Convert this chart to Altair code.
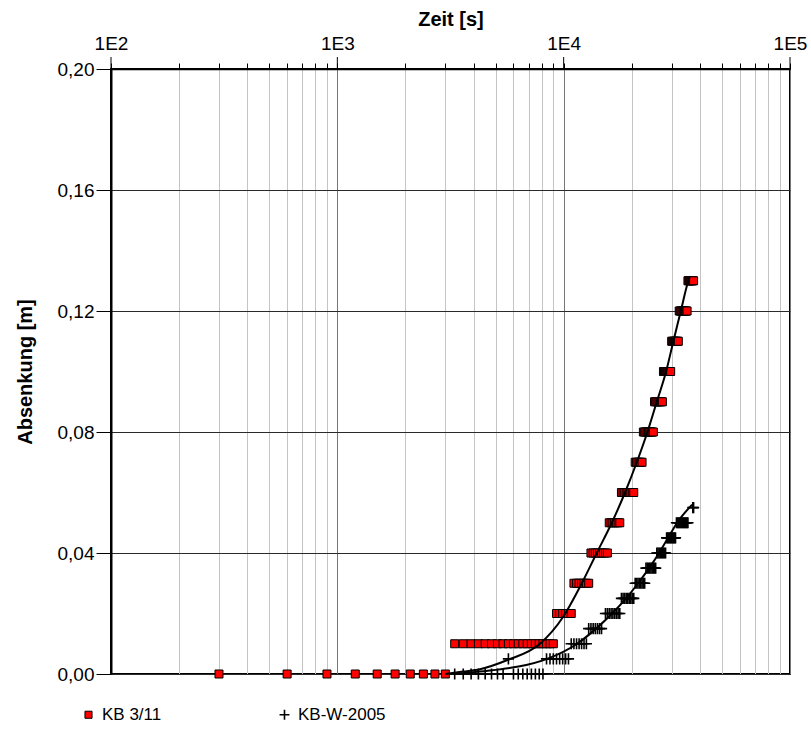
import altair as alt
import pandas as pd

# ---------------- data ----------------
SERIES = ["KB 3/11", "KB-W-2005"]

KB311_LEVELS = [0.00, 0.01, 0.02, 0.03, 0.04, 0.05, 0.06, 0.07, 0.08, 0.09, 0.10, 0.11, 0.12, 0.13]
KB311_TIMES = [
    [300, 600, 900, 1200, 1500, 1800, 2100, 2400, 2700, 3000],
    [3300, 3600, 3900, 4200, 4500, 4800, 5100, 5400, 5700, 6000, 6300, 6600, 6900, 7200,
     7500, 7800, 8100, 8400, 8700, 9000],
    [9300, 9600, 9900, 10200, 10500, 10800],
    [11100, 11400, 11700, 12000, 12300, 12600, 12900],
    [13200, 13500, 13800, 14100, 14400, 14700, 15000, 15300, 15600],
    [15900, 16200, 16500, 16800, 17100, 17400, 17700],
    [18000, 18300, 18600, 18900, 19200, 19500, 19800, 20100, 20400],
    [20700, 21000, 21300, 21600, 21900, 22200],
    [22500, 22800, 23100, 23400, 23700, 24000, 24300, 24600, 24900],
    [25200, 25500, 25800, 26100, 26400, 26700, 27000, 27300],
    [27600, 27900, 28200, 28500, 28800, 29100, 29400, 29700],
    [30000, 30300, 30600, 30900, 31200, 31500, 31800, 32100],
    [32400, 32700, 33000, 33300, 33600, 33900, 34200, 34500, 34800, 35100],
    [35400, 35700, 36000, 36300, 36600, 36900, 37200, 37500],
]

KBW_LEVELS = [0.000, 0.005, 0.005, 0.010, 0.015, 0.020, 0.025, 0.030, 0.035, 0.040, 0.045, 0.050, 0.055]
KBW_TIMES = [
    [3300, 3600, 3900, 4200, 4500, 4800, 5100, 5400, 6000, 6300, 6600, 6900, 7200, 7500, 7800, 8100],
    [5700],
    [8400, 8700, 9000, 9300, 9600, 9900, 10200, 10500],
    [10800, 11100, 11400, 11700, 12000, 12300, 12600],
    [12900, 13200, 13500, 13800, 14100, 14400, 14700],
    [15300, 15600, 15900, 16200, 16500, 16800, 17100, 17400, 17700],
    [18000, 18300, 18600, 18900, 19200, 19500, 19800, 20100, 20400],
    [20700, 21000, 21300, 21600, 21900, 22200, 22500, 22800],
    [23100, 23400, 23700, 24000, 24300, 24600, 24900, 25200, 25500],
    [25800, 26100, 26400, 26700, 27000, 27300, 27600, 27900, 28200],
    [28500, 28800, 29100, 29400, 29700, 30000, 30300, 30600, 30900, 31200],
    [31500, 31800, 32100, 32400, 32700, 33000, 33300, 33600, 33900, 34200, 34500, 34800, 35100, 35400],
    [37200, 37500],
]

FIT1_T = [3000, 3590, 4270, 5680, 7860, 9970, 12030, 14000, 16320, 18670, 21040, 23450,
          25790, 28350, 30530, 32920, 35560, 36140]
FIT1_S = [0.0, 0.0008, 0.0016, 0.0047, 0.010, 0.019, 0.030, 0.040, 0.050, 0.060, 0.070, 0.080,
          0.090, 0.100, 0.110, 0.120, 0.130, 0.1315]

FIT2_T = [3300, 4270, 8450, 11460, 13910, 16370, 18870, 21320, 23850, 26400, 28930, 31710, 36940]
FIT2_S = [0.0, 0.0008, 0.005, 0.010, 0.015, 0.020, 0.025, 0.030, 0.035, 0.040, 0.045, 0.050, 0.056]

X_TICKS = [100, 200, 300, 400, 500, 600, 700, 800, 900,
           1000, 2000, 3000, 4000, 5000, 6000, 7000, 8000, 9000,
           10000, 20000, 30000, 40000, 50000, 60000, 70000, 80000, 90000,
           100000]
X_DECADES = [100, 1000, 10000, 100000]
Y_TICKS = [0.0, 0.04, 0.08, 0.12, 0.16, 0.20]

# ---------------- tables ----------------
rows = []
for lvl, ts in zip(KB311_LEVELS, KB311_TIMES):
    for t in ts:
        rows.append({"t": t, "s": lvl, "series": SERIES[0]})
for lvl, ts in zip(KBW_LEVELS, KBW_TIMES):
    for t in ts:
        rows.append({"t": t, "s": lvl, "series": SERIES[1]})
pts = pd.DataFrame(rows)

fit = pd.DataFrame(
    [{"t": t, "s": s, "fit": "a"} for t, s in zip(FIT1_T, FIT1_S)]
    + [{"t": t, "s": s, "fit": "b"} for t, s in zip(FIT2_T, FIT2_S)]
)
dec = pd.DataFrame({"t": X_DECADES})

FONT = "Liberation Sans"
IS_DEC = "abs(log(datum.value)/LN10 - round(log(datum.value)/LN10)) < 0.0001"
PLUS = "M-1.4,0L1.4,0M0,-1.4L0,1.4"

xscale = alt.Scale(type="log", domain=[100, 100000], nice=False)
yscale = alt.Scale(domain=[0, 0.2], nice=False, zero=False)

xaxis = alt.Axis(
    orient="top",
    values=X_TICKS,
    labelExpr=IS_DEC + " ? '1E' + round(log(datum.value)/LN10) : ''",
    labelOverlap=False,
    labelFlush=False,
    labelBound=False,
    labelFont=FONT,
    labelFontSize=19,
    labelColor="black",
    labelPadding=10,
    tickSize=6,
    tickColor="black",
    tickWidth=1,
    grid=True,
    gridColor={"condition": {"test": IS_DEC, "value": "#777777"}, "value": "#c4c4c4"},
    gridWidth=1,
    domainColor="black",
    domainWidth=1.5,
    title="Zeit [s]",
    titleFont=FONT,
    titleFontSize=20,
    titleFontWeight="bold",
    titleColor="black",
    titlePadding=5,
)

yaxis = alt.Axis(
    values=Y_TICKS,
    labelExpr="replace(format(datum.value, '.2f'), '.', ',')",
    labelFont=FONT,
    labelFontSize=19,
    labelColor="black",
    labelPadding=2,
    tickSize=15,
    tickColor="black",
    tickWidth=1,
    grid=True,
    gridColor="#2a2a2a",
    gridWidth=1,
    domainColor="black",
    domainWidth=2,
    title="Absenkung [m]",
    titleFont=FONT,
    titleFontSize=20,
    titleFontWeight="bold",
    titleColor="black",
    titlePadding=22,
)

legend = alt.Legend(
    orient="none",
    legendX=-31,
    legendY=637,
    direction="horizontal",
    title=None,
    labelFont=FONT,
    labelFontSize=17,
    labelColor="black",
    labelOffset=5,
    symbolSize=50,
    symbolStrokeColor="black",
    symbolStrokeWidth=1,
    columnPadding=114,
)

points = alt.Chart(pts).mark_point(
    filled=True, stroke="black", size=64, opacity=1
).encode(
    x=alt.X("t:Q", scale=xscale, axis=xaxis),
    y=alt.Y("s:Q", scale=yscale, axis=yaxis),
    color=alt.Color("series:N", scale=alt.Scale(domain=SERIES, range=["#ff0000", "#000000"]), legend=legend),
    shape=alt.Shape("series:N", scale=alt.Scale(domain=SERIES, range=["square", PLUS]), legend=legend),
    strokeWidth=alt.StrokeWidth("series:N", scale=alt.Scale(domain=SERIES, range=[1.0, 1.6]), legend=None),
)

lines = alt.Chart(fit).mark_line(color="black", strokeWidth=2, interpolate="monotone").encode(
    x=alt.X("t:Q"),
    y=alt.Y("s:Q"),
    detail="fit:N",
)

dec_ticks = alt.Chart(dec).mark_rule(color="black", strokeWidth=1).encode(
    x=alt.X("t:Q"),
    y=alt.value(-12),
    y2=alt.value(0),
)

chart = alt.layer(points, lines, dec_ticks).properties(
    width=679,
    height=605,
    autosize=alt.AutoSizeParams(type="none"),
    padding={"left": 111, "top": 69, "right": 21, "bottom": 61},
    background="white",
).configure_view(
    stroke="black", strokeWidth=2
)

chart.save("out.html", embed_options={"renderer": "svg", "actions": False})
